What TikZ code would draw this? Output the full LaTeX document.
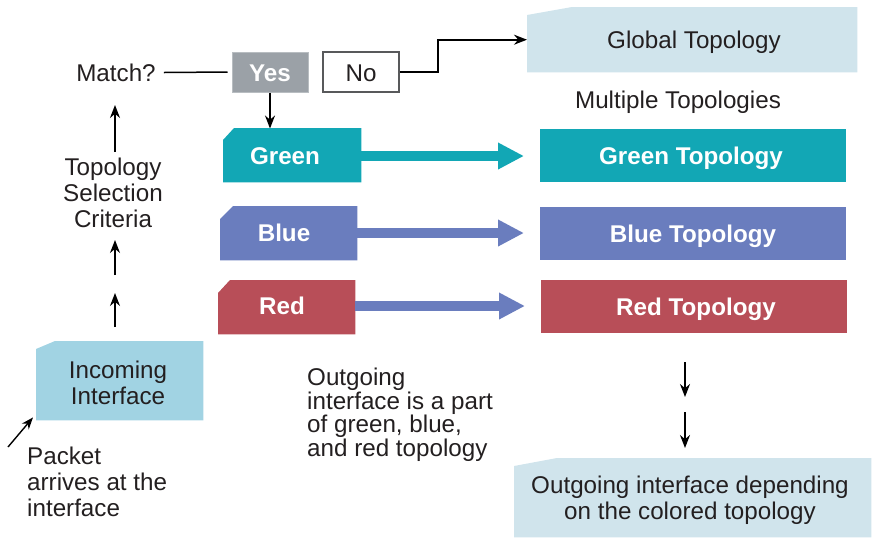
\documentclass[tikz,border=0pt]{standalone}
\usepackage{fontspec}
\setmainfont{Liberation Sans}
\usetikzlibrary{arrows.meta}
\definecolor{tgreen}{HTML}{12A7B5}
\definecolor{tblue}{HTML}{6A7DBE}
\definecolor{tred}{HTML}{B84E58}
\definecolor{lblue}{HTML}{D0E4EC}
\definecolor{inblue}{HTML}{A1D3E3}
\definecolor{ygray}{HTML}{9BA1A7}
\definecolor{yborder}{HTML}{B8BDC1}
\definecolor{nborder}{HTML}{58595B}
\definecolor{txt}{HTML}{231F20}
\begin{document}
\begin{tikzpicture}[x=1pt,y=-1pt,
  lbl/.style={text=txt, font=\fontsize{24.2}{26}\selectfont, align=center, inner sep=0},
  wlbl/.style={text=white, font=\fontsize{24.2}{26}\selectfont\bfseries, inner sep=0},
  capc/.style={text height=17.4pt, text depth=0pt},
  shapebox/.style={inner sep=0, anchor=north west},
  arr/.style={-{Stealth[length=13pt,width=10pt]}, line width=1.6pt, draw=black},
  fat/.style={line width=10pt, -{Triangle[length=26pt,width=25pt]}},
]
\useasboundingbox (0,0) rectangle (883,542);

% ---------- Global topology ----------
\node[shapebox, minimum width=330, minimum height=65] (global) at (527,7) {};
\fill[lblue] (global.south west) -- ([yshift=-8pt]global.north west) -- ([xshift=45pt]global.north west) -- (global.north east) -- (global.south east) -- cycle;
\node[lbl, capc] (globalt) at (694,39.5) {Global Topology};

\node[lbl, capc] (multi) at (678,100) {Multiple Topologies};

% ---------- Match / Yes / No ----------
\node[lbl, capc] (match) at (116,72.5) {Match?};
\node[draw=yborder, fill=ygray, line width=1pt, minimum width=76, minimum height=40, inner sep=0] (yes) at (270,72) {};
\node[wlbl, capc] (yest) at (270,73) {Yes};
\node[draw=nborder, fill=white, line width=1.5pt, minimum width=76, minimum height=40, inner sep=0] (no) at (361,72) {};
\node[lbl, capc] (not) at (361,73) {No};

\draw[line width=1.5pt] ([xshift=8pt]match.east) -- ([xshift=-4pt]yes.west);
\draw[arr] (yes.south) -- ++(0,36);
\draw[arr] (no.east) -- ++(38,0) |- (global.west);

% ---------- colour boxes ----------
\node[shapebox, minimum width=138, minimum height=54] (green) at (223,128) {};
\fill[tgreen] (green.south west) -- ([yshift=-12pt]green.north west) -- ([xshift=11pt]green.north west) -- (green.north east) -- (green.south east) -- cycle;
\node[wlbl, capc] (greent) at (285,156) {Green};

\node[shapebox, minimum width=137, minimum height=54] (blue) at (220,206) {};
\fill[tblue] (blue.south west) -- ([yshift=-13pt]blue.north west) -- ([xshift=13pt]blue.north west) -- (blue.north east) -- (blue.south east) -- cycle;
\node[wlbl, capc] (bluet) at (284,233) {Blue};

\node[shapebox, minimum width=137, minimum height=54] (red) at (218,280) {};
\fill[tred] (red.south west) -- ([yshift=-13pt]red.north west) -- ([xshift=12pt]red.north west) -- (red.north east) -- (red.south east) -- cycle;
\node[wlbl, capc] (redt) at (282,306) {Red};

% ---------- topology boxes ----------
\node[shapebox, fill=tgreen, minimum width=306, minimum height=53] (gtopo) at (540,129) {};
\node[wlbl, capc] (gtopot) at (691,155.5) {Green Topology};
\node[shapebox, fill=tblue, minimum width=306, minimum height=53] (btopo) at (540,207) {};
\node[wlbl, capc] (btopot) at (693,233.5) {Blue Topology};
\node[shapebox, fill=tred, minimum width=306, minimum height=53] (rtopo) at (541,280) {};
\node[wlbl, capc] (rtopot) at (696,306.5) {Red Topology};

% ---------- fat arrows ----------
\draw[fat, tgreen, shorten >=16pt] (green.east |- 0,156) -- (gtopo.west |- 0,156);
\draw[fat, tblue, shorten >=16pt] (blue.east |- 0,233) -- (btopo.west |- 0,233);
\draw[fat, tblue, shorten >=16pt] (red.east |- 0,306) -- (rtopo.west |- 0,306);

% ---------- left column ----------
\node[lbl] (tsc) at (113,193) {Topology\\Selection\\Criteria};
\draw[arr] (115,152) coordinate (a3s) -- (115,105) coordinate (a3e);
\coordinate (a2s) at (115,275);
\coordinate (a2e) at (115,240);
\draw[arr] (a2s) -- (a2e);
\coordinate (a1s) at (115,327);
\coordinate (a1e) at (115,293);
\draw[arr] (a1s) -- (a1e);

\node[shapebox, minimum width=167, minimum height=79] (incoming) at (36,341) {};
\fill[inblue] (incoming.south west) -- ([yshift=-8pt]incoming.north west) -- ([xshift=19pt]incoming.north west) -- (incoming.north east) -- (incoming.south east) -- cycle;
\node[lbl] (incomingt) at (118,383) {Incoming\\Interface};

\coordinate (pk) at (8,447);
\draw[arr, line width=1.4pt, -{Stealth[length=12pt,width=9pt]}] (pk) -- ([shift={(-3pt,3pt)}]incoming.south west);
\node[lbl, align=left, anchor=north west] (packet) at (27,447) {Packet\\arrives at the\\interface};

% ---------- outgoing ----------
\node[lbl, align=left, anchor=north west, font=\fontsize{24.2}{23.5}\selectfont] (outtext) at (307,368) {Outgoing\\interface is a part\\of green, blue,\\and red topology};

\coordinate (d1s) at (685,362);
\coordinate (d1e) at (685,397);
\draw[arr] (d1s) -- (d1e);
\coordinate (d2s) at (685,412);
\coordinate (d2e) at (685,448);
\draw[arr] (d2s) -- (d2e);

\node[shapebox, minimum width=357, minimum height=79] (outbox) at (514,458) {};
\fill[lblue] (outbox.south west) -- ([yshift=-8pt]outbox.north west) -- ([xshift=43pt]outbox.north west) -- (outbox.north east) -- (outbox.south east) -- cycle;
\node[lbl] (outboxt) at (690,500) {Outgoing interface depending\\on the colored topology};
\end{tikzpicture}
\end{document}
